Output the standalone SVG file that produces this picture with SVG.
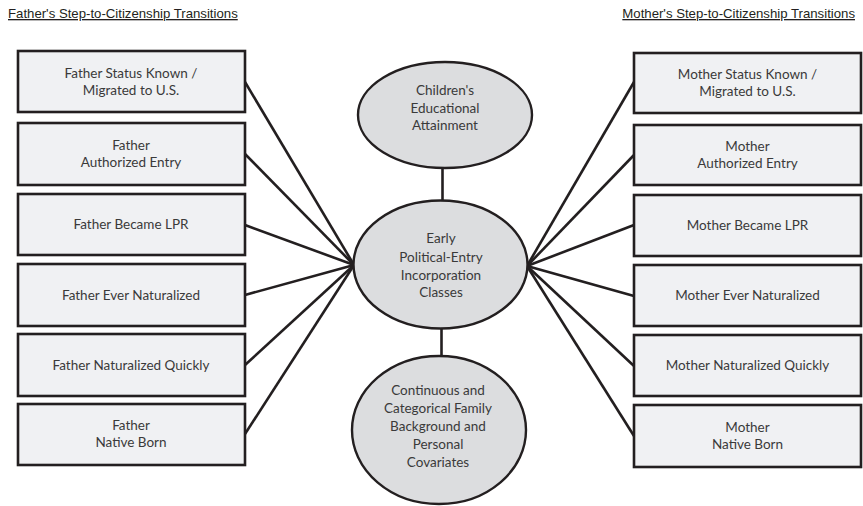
<svg xmlns="http://www.w3.org/2000/svg" width="863" height="506" viewBox="0 0 863 506">
<style>
.title{font-family:"Liberation Sans",Arial,sans-serif;font-size:13.2px;fill:#231f20;text-decoration:underline}
.box{fill:#f0f1f3;stroke:#231f20;stroke-width:2.6}
.ell{fill:#dcdddf;stroke:#231f20;stroke-width:2.4}
.t{font-family:Lato,"Open Sans",sans-serif;font-size:13.5px;fill:#3a3a3a;text-anchor:middle}
.conn line{stroke:#231f20;stroke-width:2.6}
</style>
<rect width="863" height="506" fill="#ffffff"/>
<text class="title" x="8" y="18">Father's Step-to-Citizenship Transitions</text>
<text class="title" x="855" y="18" text-anchor="end">Mother's Step-to-Citizenship Transitions</text>
<g class="conn" id="connectors">
<line x1="245" y1="82" x2="354" y2="265"/>
<line x1="245" y1="154" x2="354" y2="265"/>
<line x1="245" y1="225" x2="354" y2="265"/>
<line x1="245" y1="295" x2="354" y2="265"/>
<line x1="245" y1="365" x2="354" y2="265"/>
<line x1="245" y1="434" x2="354" y2="265"/>
<line x1="634" y1="82" x2="527" y2="266"/>
<line x1="634" y1="155" x2="527" y2="266"/>
<line x1="634" y1="225" x2="527" y2="266"/>
<line x1="634" y1="296" x2="527" y2="266"/>
<line x1="634" y1="366" x2="527" y2="266"/>
<line x1="634" y1="436" x2="527" y2="266"/>
<line x1="442.5" y1="167" x2="442.5" y2="201"/>
<line x1="441.5" y1="328" x2="441.5" y2="356"/>
</g>
<g id="f1"><rect class="box" x="18" y="51" width="227" height="61"/><text class="t" x="131" y="78">Father Status Known /</text><text class="t" x="131" y="95">Migrated to U.S.</text></g>
<g id="f2"><rect class="box" x="18" y="123" width="227" height="62"/><text class="t" x="131" y="150">Father</text><text class="t" x="131" y="167">Authorized Entry</text></g>
<g id="f3"><rect class="box" x="18" y="194" width="227" height="61"/><text class="t" x="131" y="229">Father Became LPR</text></g>
<g id="f4"><rect class="box" x="18" y="264" width="227" height="62"/><text class="t" x="131" y="299.5">Father Ever Naturalized</text></g>
<g id="f5"><rect class="box" x="18" y="334" width="227" height="62"/><text class="t" x="131" y="369.5">Father Naturalized Quickly</text></g>
<g id="f6"><rect class="box" x="18" y="404" width="227" height="61"/><text class="t" x="131" y="430">Father</text><text class="t" x="131" y="447">Native Born</text></g>
<g id="m1"><rect class="box" x="634" y="53" width="227" height="60"/><text class="t" x="747.5" y="79">Mother Status Known /</text><text class="t" x="747.5" y="96">Migrated to U.S.</text></g>
<g id="m2"><rect class="box" x="634" y="125" width="227" height="60"/><text class="t" x="747.5" y="151">Mother</text><text class="t" x="747.5" y="168">Authorized Entry</text></g>
<g id="m3"><rect class="box" x="634" y="195" width="227" height="61"/><text class="t" x="747.5" y="230">Mother Became LPR</text></g>
<g id="m4"><rect class="box" x="634" y="265" width="227" height="61"/><text class="t" x="747.5" y="300">Mother Ever Naturalized</text></g>
<g id="m5"><rect class="box" x="634" y="335" width="227" height="61"/><text class="t" x="747.5" y="370">Mother Naturalized Quickly</text></g>
<g id="m6"><rect class="box" x="634" y="405" width="227" height="62"/><text class="t" x="747.5" y="431.5">Mother</text><text class="t" x="747.5" y="448.5">Native Born</text></g>
<g id="outcome"><ellipse class="ell" cx="445" cy="115" rx="87" ry="53"/><text class="t" x="445" y="94.5">Children's</text><text class="t" x="445" y="112.5">Educational</text><text class="t" x="445" y="130">Attainment</text></g>
<g id="classes"><ellipse class="ell" cx="440.5" cy="264.5" rx="87" ry="64"/><text class="t" x="441" y="242.5">Early</text><text class="t" x="441" y="261.5">Political-Entry</text><text class="t" x="441" y="279.5">Incorporation</text><text class="t" x="441" y="296.5">Classes</text></g>
<g id="covariates"><ellipse class="ell" cx="439" cy="430" rx="87" ry="74"/><text class="t" x="438" y="394.5">Continuous and</text><text class="t" x="438" y="413">Categorical Family</text><text class="t" x="438" y="430.5">Background and</text><text class="t" x="438" y="448.5">Personal</text><text class="t" x="438" y="466.5">Covariates</text></g>
</svg>
